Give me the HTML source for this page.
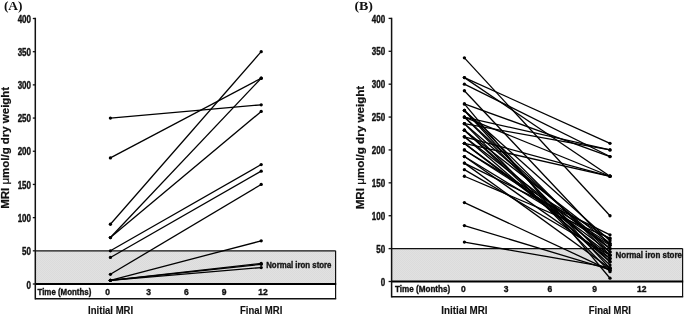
<!DOCTYPE html>
<html><head><meta charset="utf-8"><style>
html,body{margin:0;padding:0;background:#fff;}
svg{display:block;filter:blur(0.3px);}
text{font-family:"Liberation Sans", sans-serif;font-weight:bold;fill:#111;}
</style></head><body>
<svg width="685" height="316" viewBox="0 0 685 316">
<defs>
<pattern id="dots" width="2" height="2" patternUnits="userSpaceOnUse">
<rect width="2" height="2" fill="#e1e1e1"/>
<rect width="1" height="1" fill="#dbdbdb"/>
<rect x="1" y="1" width="1" height="1" fill="#dbdbdb"/>
</pattern>
</defs>
<text x="3.9" y="10.4" textLength="18.6" lengthAdjust="spacingAndGlyphs" style="font-family:'Liberation Serif',serif;font-size:12.4px;">(A)</text>
<text x="354.4" y="10.4" textLength="18.6" lengthAdjust="spacingAndGlyphs" style="font-family:'Liberation Serif',serif;font-size:12.4px;">(B)</text>
<rect x="35.3" y="250.8125" width="300.3" height="33.1875" fill="url(#dots)"/>
<line x1="35.3" y1="250.8125" x2="335.6" y2="250.8125" stroke="#111" stroke-width="1.3"/>
<line x1="335.6" y1="250.8125" x2="335.6" y2="298.7" stroke="#111" stroke-width="1.2"/>
<line x1="35.3" y1="298.7" x2="336.20000000000005" y2="298.7" stroke="#111" stroke-width="1.6"/>
<line x1="35.3" y1="284.0" x2="336.20000000000005" y2="284.0" stroke="#000" stroke-width="2.2"/>
<line x1="35.3" y1="17.8" x2="35.3" y2="299.5" stroke="#111" stroke-width="1.5"/>
<line x1="32.8" y1="284.0" x2="35.3" y2="284.0" stroke="#111" stroke-width="1.3"/>
<text x="30.999999999999996" y="288.7" text-anchor="end" font-size="10.0" stroke="#111" stroke-width="0.4" textLength="4.45" lengthAdjust="spacingAndGlyphs">0</text>
<line x1="32.8" y1="250.8125" x2="35.3" y2="250.8125" stroke="#111" stroke-width="1.3"/>
<text x="30.999999999999996" y="254.9125" text-anchor="end" font-size="10.0" stroke="#111" stroke-width="0.4" textLength="8.9" lengthAdjust="spacingAndGlyphs">50</text>
<line x1="32.8" y1="217.625" x2="35.3" y2="217.625" stroke="#111" stroke-width="1.3"/>
<text x="30.999999999999996" y="221.725" text-anchor="end" font-size="10.0" stroke="#111" stroke-width="0.4" textLength="13.350000000000001" lengthAdjust="spacingAndGlyphs">100</text>
<line x1="32.8" y1="184.4375" x2="35.3" y2="184.4375" stroke="#111" stroke-width="1.3"/>
<text x="30.999999999999996" y="188.5375" text-anchor="end" font-size="10.0" stroke="#111" stroke-width="0.4" textLength="13.350000000000001" lengthAdjust="spacingAndGlyphs">150</text>
<line x1="32.8" y1="151.25" x2="35.3" y2="151.25" stroke="#111" stroke-width="1.3"/>
<text x="30.999999999999996" y="155.35" text-anchor="end" font-size="10.0" stroke="#111" stroke-width="0.4" textLength="13.350000000000001" lengthAdjust="spacingAndGlyphs">200</text>
<line x1="32.8" y1="118.0625" x2="35.3" y2="118.0625" stroke="#111" stroke-width="1.3"/>
<text x="30.999999999999996" y="122.1625" text-anchor="end" font-size="10.0" stroke="#111" stroke-width="0.4" textLength="13.350000000000001" lengthAdjust="spacingAndGlyphs">250</text>
<line x1="32.8" y1="84.87500000000003" x2="35.3" y2="84.87500000000003" stroke="#111" stroke-width="1.3"/>
<text x="30.999999999999996" y="88.97500000000002" text-anchor="end" font-size="10.0" stroke="#111" stroke-width="0.4" textLength="13.350000000000001" lengthAdjust="spacingAndGlyphs">300</text>
<line x1="32.8" y1="51.68750000000003" x2="35.3" y2="51.68750000000003" stroke="#111" stroke-width="1.3"/>
<text x="30.999999999999996" y="55.78750000000003" text-anchor="end" font-size="10.0" stroke="#111" stroke-width="0.4" textLength="13.350000000000001" lengthAdjust="spacingAndGlyphs">350</text>
<line x1="32.8" y1="18.5" x2="35.3" y2="18.5" stroke="#111" stroke-width="1.3"/>
<text x="30.999999999999996" y="22.6" text-anchor="end" font-size="10.0" stroke="#111" stroke-width="0.4" textLength="13.350000000000001" lengthAdjust="spacingAndGlyphs">400</text>
<text x="37.5" y="294.8" font-size="8.5" textLength="53.8" lengthAdjust="spacingAndGlyphs" stroke="#111" stroke-width="0.35">Time (Months)</text>
<text x="107.6" y="294.8" font-size="8.5" text-anchor="middle" stroke="#111" stroke-width="0.35">0</text>
<text x="148.7" y="294.8" font-size="8.5" text-anchor="middle" stroke="#111" stroke-width="0.35">3</text>
<text x="186.4" y="294.8" font-size="8.5" text-anchor="middle" stroke="#111" stroke-width="0.35">6</text>
<text x="224" y="294.8" font-size="8.5" text-anchor="middle" stroke="#111" stroke-width="0.35">9</text>
<text x="263" y="294.8" font-size="8.5" text-anchor="middle" stroke="#111" stroke-width="0.35">12</text>
<line x1="110.4" y1="118.06" x2="261.2" y2="104.79" stroke="#000" stroke-width="1.3"/>
<line x1="110.4" y1="157.89" x2="261.2" y2="78.24" stroke="#000" stroke-width="1.3"/>
<line x1="110.4" y1="224.26" x2="261.2" y2="51.69" stroke="#000" stroke-width="1.3"/>
<line x1="110.4" y1="237.54" x2="261.2" y2="78.24" stroke="#000" stroke-width="1.3"/>
<line x1="110.4" y1="237.54" x2="261.2" y2="111.43" stroke="#000" stroke-width="1.3"/>
<line x1="110.4" y1="250.81" x2="261.2" y2="164.53" stroke="#000" stroke-width="1.3"/>
<line x1="110.4" y1="257.45" x2="261.2" y2="171.16" stroke="#000" stroke-width="1.3"/>
<line x1="110.4" y1="274.31" x2="261.2" y2="184.44" stroke="#000" stroke-width="1.3"/>
<line x1="110.4" y1="280.28" x2="261.2" y2="240.86" stroke="#000" stroke-width="1.3"/>
<line x1="110.4" y1="280.28" x2="261.2" y2="263.49" stroke="#000" stroke-width="1.3"/>
<line x1="110.4" y1="280.28" x2="261.2" y2="264.35" stroke="#000" stroke-width="1.3"/>
<line x1="110.4" y1="280.28" x2="261.2" y2="267.54" stroke="#000" stroke-width="1.3"/>
<circle cx="110.4" cy="118.06" r="1.65"/>
<circle cx="261.2" cy="104.79" r="1.65"/>
<circle cx="110.4" cy="157.89" r="1.65"/>
<circle cx="261.2" cy="78.24" r="1.65"/>
<circle cx="110.4" cy="224.26" r="1.65"/>
<circle cx="261.2" cy="51.69" r="1.65"/>
<circle cx="110.4" cy="237.54" r="1.65"/>
<circle cx="261.2" cy="78.24" r="1.65"/>
<circle cx="110.4" cy="237.54" r="1.65"/>
<circle cx="261.2" cy="111.43" r="1.65"/>
<circle cx="110.4" cy="250.81" r="1.65"/>
<circle cx="261.2" cy="164.53" r="1.65"/>
<circle cx="110.4" cy="257.45" r="1.65"/>
<circle cx="261.2" cy="171.16" r="1.65"/>
<circle cx="110.4" cy="274.31" r="1.65"/>
<circle cx="261.2" cy="184.44" r="1.65"/>
<circle cx="110.4" cy="280.28" r="1.65"/>
<circle cx="261.2" cy="240.86" r="1.65"/>
<circle cx="110.4" cy="280.28" r="1.65"/>
<circle cx="261.2" cy="263.49" r="1.65"/>
<circle cx="110.4" cy="280.28" r="1.65"/>
<circle cx="261.2" cy="264.35" r="1.65"/>
<circle cx="110.4" cy="280.28" r="1.65"/>
<circle cx="261.2" cy="267.54" r="1.65"/>
<text x="266.2" y="267.6" font-size="8.6" textLength="65.3" lengthAdjust="spacingAndGlyphs" stroke="#111" stroke-width="0.35">Normal iron store</text>
<text x="9.5" y="208.8" font-size="10.1" stroke="#111" stroke-width="0.2" textLength="122.0" lengthAdjust="spacingAndGlyphs" transform="rotate(-90 9.5 208.8)">MRI <tspan font-weight="normal">μ</tspan>mol/g dry weight</text>
<rect x="391.6" y="248.6125" width="291.0" height="32.88749999999999" fill="url(#dots)"/>
<line x1="391.6" y1="248.6125" x2="682.6" y2="248.6125" stroke="#111" stroke-width="1.3"/>
<line x1="682.6" y1="248.6125" x2="682.6" y2="296.8" stroke="#111" stroke-width="1.2"/>
<line x1="391.6" y1="296.8" x2="683.2" y2="296.8" stroke="#111" stroke-width="1.6"/>
<line x1="391.6" y1="281.5" x2="683.2" y2="281.5" stroke="#000" stroke-width="2.2"/>
<line x1="391.6" y1="17.700000000000035" x2="391.6" y2="297.6" stroke="#111" stroke-width="1.5"/>
<line x1="388.6" y1="281.5" x2="391.6" y2="281.5" stroke="#111" stroke-width="1.3"/>
<text x="385.20000000000005" y="286.2" text-anchor="end" font-size="10.0" stroke="#111" stroke-width="0.4" textLength="4.45" lengthAdjust="spacingAndGlyphs">0</text>
<line x1="388.6" y1="248.6125" x2="391.6" y2="248.6125" stroke="#111" stroke-width="1.3"/>
<text x="385.20000000000005" y="252.7125" text-anchor="end" font-size="10.0" stroke="#111" stroke-width="0.4" textLength="8.9" lengthAdjust="spacingAndGlyphs">50</text>
<line x1="388.6" y1="215.72500000000002" x2="391.6" y2="215.72500000000002" stroke="#111" stroke-width="1.3"/>
<text x="385.20000000000005" y="219.82500000000002" text-anchor="end" font-size="10.0" stroke="#111" stroke-width="0.4" textLength="13.350000000000001" lengthAdjust="spacingAndGlyphs">100</text>
<line x1="388.6" y1="182.8375" x2="391.6" y2="182.8375" stroke="#111" stroke-width="1.3"/>
<text x="385.20000000000005" y="186.9375" text-anchor="end" font-size="10.0" stroke="#111" stroke-width="0.4" textLength="13.350000000000001" lengthAdjust="spacingAndGlyphs">150</text>
<line x1="388.6" y1="149.95000000000002" x2="391.6" y2="149.95000000000002" stroke="#111" stroke-width="1.3"/>
<text x="385.20000000000005" y="154.05" text-anchor="end" font-size="10.0" stroke="#111" stroke-width="0.4" textLength="13.350000000000001" lengthAdjust="spacingAndGlyphs">200</text>
<line x1="388.6" y1="117.0625" x2="391.6" y2="117.0625" stroke="#111" stroke-width="1.3"/>
<text x="385.20000000000005" y="121.1625" text-anchor="end" font-size="10.0" stroke="#111" stroke-width="0.4" textLength="13.350000000000001" lengthAdjust="spacingAndGlyphs">250</text>
<line x1="388.6" y1="84.17500000000001" x2="391.6" y2="84.17500000000001" stroke="#111" stroke-width="1.3"/>
<text x="385.20000000000005" y="88.275" text-anchor="end" font-size="10.0" stroke="#111" stroke-width="0.4" textLength="13.350000000000001" lengthAdjust="spacingAndGlyphs">300</text>
<line x1="388.6" y1="51.28750000000002" x2="391.6" y2="51.28750000000002" stroke="#111" stroke-width="1.3"/>
<text x="385.20000000000005" y="55.387500000000024" text-anchor="end" font-size="10.0" stroke="#111" stroke-width="0.4" textLength="13.350000000000001" lengthAdjust="spacingAndGlyphs">350</text>
<line x1="388.6" y1="18.400000000000034" x2="391.6" y2="18.400000000000034" stroke="#111" stroke-width="1.3"/>
<text x="385.20000000000005" y="22.500000000000036" text-anchor="end" font-size="10.0" stroke="#111" stroke-width="0.4" textLength="13.350000000000001" lengthAdjust="spacingAndGlyphs">400</text>
<text x="395.0" y="292.3" font-size="8.5" textLength="55.2" lengthAdjust="spacingAndGlyphs" stroke="#111" stroke-width="0.35">Time (Months)</text>
<text x="463.3" y="292.3" font-size="8.5" text-anchor="middle" stroke="#111" stroke-width="0.35">0</text>
<text x="506.2" y="292.3" font-size="8.5" text-anchor="middle" stroke="#111" stroke-width="0.35">3</text>
<text x="549.8" y="292.3" font-size="8.5" text-anchor="middle" stroke="#111" stroke-width="0.35">6</text>
<text x="594.5" y="292.3" font-size="8.5" text-anchor="middle" stroke="#111" stroke-width="0.35">9</text>
<text x="641.7" y="292.3" font-size="8.5" text-anchor="middle" stroke="#111" stroke-width="0.35">12</text>
<line x1="464.4" y1="57.87" x2="610.0" y2="215.73" stroke="#000" stroke-width="1.3"/>
<line x1="464.4" y1="77.60" x2="610.0" y2="143.37" stroke="#000" stroke-width="1.3"/>
<line x1="464.4" y1="77.60" x2="610.0" y2="176.26" stroke="#000" stroke-width="1.3"/>
<line x1="464.4" y1="84.18" x2="610.0" y2="156.53" stroke="#000" stroke-width="1.3"/>
<line x1="464.4" y1="90.75" x2="610.0" y2="245.32" stroke="#000" stroke-width="1.3"/>
<line x1="464.4" y1="103.91" x2="610.0" y2="156.53" stroke="#000" stroke-width="1.3"/>
<line x1="464.4" y1="103.91" x2="610.0" y2="278.21" stroke="#000" stroke-width="1.3"/>
<line x1="464.4" y1="110.49" x2="610.0" y2="255.19" stroke="#000" stroke-width="1.3"/>
<line x1="464.4" y1="110.49" x2="610.0" y2="268.35" stroke="#000" stroke-width="1.3"/>
<line x1="464.4" y1="110.49" x2="610.0" y2="240.72" stroke="#000" stroke-width="1.3"/>
<line x1="464.4" y1="117.06" x2="610.0" y2="149.95" stroke="#000" stroke-width="1.3"/>
<line x1="464.4" y1="117.06" x2="610.0" y2="176.26" stroke="#000" stroke-width="1.3"/>
<line x1="464.4" y1="117.06" x2="610.0" y2="261.77" stroke="#000" stroke-width="1.3"/>
<line x1="464.4" y1="117.06" x2="610.0" y2="251.90" stroke="#000" stroke-width="1.3"/>
<line x1="464.4" y1="123.64" x2="610.0" y2="149.95" stroke="#000" stroke-width="1.3"/>
<line x1="464.4" y1="123.64" x2="610.0" y2="248.61" stroke="#000" stroke-width="1.3"/>
<line x1="464.4" y1="123.64" x2="610.0" y2="271.63" stroke="#000" stroke-width="1.3"/>
<line x1="464.4" y1="130.22" x2="610.0" y2="258.48" stroke="#000" stroke-width="1.3"/>
<line x1="464.4" y1="130.22" x2="610.0" y2="265.06" stroke="#000" stroke-width="1.3"/>
<line x1="464.4" y1="130.22" x2="610.0" y2="243.35" stroke="#000" stroke-width="1.3"/>
<line x1="464.4" y1="136.80" x2="610.0" y2="176.26" stroke="#000" stroke-width="1.3"/>
<line x1="464.4" y1="136.80" x2="610.0" y2="261.77" stroke="#000" stroke-width="1.3"/>
<line x1="464.4" y1="136.80" x2="610.0" y2="248.61" stroke="#000" stroke-width="1.3"/>
<line x1="464.4" y1="143.37" x2="610.0" y2="176.26" stroke="#000" stroke-width="1.3"/>
<line x1="464.4" y1="143.37" x2="610.0" y2="255.19" stroke="#000" stroke-width="1.3"/>
<line x1="464.4" y1="143.37" x2="610.0" y2="251.90" stroke="#000" stroke-width="1.3"/>
<line x1="464.4" y1="149.95" x2="610.0" y2="244.01" stroke="#000" stroke-width="1.3"/>
<line x1="464.4" y1="149.95" x2="610.0" y2="238.75" stroke="#000" stroke-width="1.3"/>
<line x1="464.4" y1="156.53" x2="610.0" y2="245.32" stroke="#000" stroke-width="1.3"/>
<line x1="464.4" y1="156.53" x2="610.0" y2="258.48" stroke="#000" stroke-width="1.3"/>
<line x1="464.4" y1="163.11" x2="610.0" y2="268.35" stroke="#000" stroke-width="1.3"/>
<line x1="464.4" y1="163.11" x2="610.0" y2="234.80" stroke="#000" stroke-width="1.3"/>
<line x1="464.4" y1="169.68" x2="610.0" y2="255.19" stroke="#000" stroke-width="1.3"/>
<line x1="464.4" y1="176.26" x2="610.0" y2="238.09" stroke="#000" stroke-width="1.3"/>
<line x1="464.4" y1="202.57" x2="610.0" y2="270.32" stroke="#000" stroke-width="1.3"/>
<line x1="464.4" y1="225.59" x2="610.0" y2="269.66" stroke="#000" stroke-width="1.3"/>
<line x1="464.4" y1="242.03" x2="610.0" y2="267.69" stroke="#000" stroke-width="1.3"/>
<circle cx="464.4" cy="57.87" r="1.65"/>
<circle cx="610.0" cy="215.73" r="1.65"/>
<circle cx="464.4" cy="77.60" r="1.65"/>
<circle cx="610.0" cy="143.37" r="1.65"/>
<circle cx="464.4" cy="77.60" r="1.65"/>
<circle cx="610.0" cy="176.26" r="1.65"/>
<circle cx="464.4" cy="84.18" r="1.65"/>
<circle cx="610.0" cy="156.53" r="1.65"/>
<circle cx="464.4" cy="90.75" r="1.65"/>
<circle cx="610.0" cy="245.32" r="1.65"/>
<circle cx="464.4" cy="103.91" r="1.65"/>
<circle cx="610.0" cy="156.53" r="1.65"/>
<circle cx="464.4" cy="103.91" r="1.65"/>
<circle cx="610.0" cy="278.21" r="1.65"/>
<circle cx="464.4" cy="110.49" r="1.65"/>
<circle cx="610.0" cy="255.19" r="1.65"/>
<circle cx="464.4" cy="110.49" r="1.65"/>
<circle cx="610.0" cy="268.35" r="1.65"/>
<circle cx="464.4" cy="110.49" r="1.65"/>
<circle cx="610.0" cy="240.72" r="1.65"/>
<circle cx="464.4" cy="117.06" r="1.65"/>
<circle cx="610.0" cy="149.95" r="1.65"/>
<circle cx="464.4" cy="117.06" r="1.65"/>
<circle cx="610.0" cy="176.26" r="1.65"/>
<circle cx="464.4" cy="117.06" r="1.65"/>
<circle cx="610.0" cy="261.77" r="1.65"/>
<circle cx="464.4" cy="117.06" r="1.65"/>
<circle cx="610.0" cy="251.90" r="1.65"/>
<circle cx="464.4" cy="123.64" r="1.65"/>
<circle cx="610.0" cy="149.95" r="1.65"/>
<circle cx="464.4" cy="123.64" r="1.65"/>
<circle cx="610.0" cy="248.61" r="1.65"/>
<circle cx="464.4" cy="123.64" r="1.65"/>
<circle cx="610.0" cy="271.63" r="1.65"/>
<circle cx="464.4" cy="130.22" r="1.65"/>
<circle cx="610.0" cy="258.48" r="1.65"/>
<circle cx="464.4" cy="130.22" r="1.65"/>
<circle cx="610.0" cy="265.06" r="1.65"/>
<circle cx="464.4" cy="130.22" r="1.65"/>
<circle cx="610.0" cy="243.35" r="1.65"/>
<circle cx="464.4" cy="136.80" r="1.65"/>
<circle cx="610.0" cy="176.26" r="1.65"/>
<circle cx="464.4" cy="136.80" r="1.65"/>
<circle cx="610.0" cy="261.77" r="1.65"/>
<circle cx="464.4" cy="136.80" r="1.65"/>
<circle cx="610.0" cy="248.61" r="1.65"/>
<circle cx="464.4" cy="143.37" r="1.65"/>
<circle cx="610.0" cy="176.26" r="1.65"/>
<circle cx="464.4" cy="143.37" r="1.65"/>
<circle cx="610.0" cy="255.19" r="1.65"/>
<circle cx="464.4" cy="143.37" r="1.65"/>
<circle cx="610.0" cy="251.90" r="1.65"/>
<circle cx="464.4" cy="149.95" r="1.65"/>
<circle cx="610.0" cy="244.01" r="1.65"/>
<circle cx="464.4" cy="149.95" r="1.65"/>
<circle cx="610.0" cy="238.75" r="1.65"/>
<circle cx="464.4" cy="156.53" r="1.65"/>
<circle cx="610.0" cy="245.32" r="1.65"/>
<circle cx="464.4" cy="156.53" r="1.65"/>
<circle cx="610.0" cy="258.48" r="1.65"/>
<circle cx="464.4" cy="163.11" r="1.65"/>
<circle cx="610.0" cy="268.35" r="1.65"/>
<circle cx="464.4" cy="163.11" r="1.65"/>
<circle cx="610.0" cy="234.80" r="1.65"/>
<circle cx="464.4" cy="169.68" r="1.65"/>
<circle cx="610.0" cy="255.19" r="1.65"/>
<circle cx="464.4" cy="176.26" r="1.65"/>
<circle cx="610.0" cy="238.09" r="1.65"/>
<circle cx="464.4" cy="202.57" r="1.65"/>
<circle cx="610.0" cy="270.32" r="1.65"/>
<circle cx="464.4" cy="225.59" r="1.65"/>
<circle cx="610.0" cy="269.66" r="1.65"/>
<circle cx="464.4" cy="242.03" r="1.65"/>
<circle cx="610.0" cy="267.69" r="1.65"/>
<text x="615.5" y="257.9" font-size="8.6" textLength="66.5" lengthAdjust="spacingAndGlyphs" stroke="#111" stroke-width="0.35">Normal iron store</text>
<text x="364.0" y="209.3" font-size="10.1" stroke="#111" stroke-width="0.2" textLength="123.5" lengthAdjust="spacingAndGlyphs" transform="rotate(-90 364.0 209.3)">MRI <tspan font-weight="normal">μ</tspan>mol/g dry weight</text>
<text x="88.1" y="313.8" font-size="10.2" stroke="#111" stroke-width="0.15" textLength="45" lengthAdjust="spacingAndGlyphs">Initial MRI</text>
<text x="240" y="313.8" font-size="10.2" stroke="#111" stroke-width="0.15" textLength="42.3" lengthAdjust="spacingAndGlyphs">Final MRI</text>
<text x="441.3" y="313.8" font-size="10.2" stroke="#111" stroke-width="0.15" textLength="46.3" lengthAdjust="spacingAndGlyphs">Initial MRI</text>
<text x="588.7" y="313.8" font-size="10.2" stroke="#111" stroke-width="0.15" textLength="42.3" lengthAdjust="spacingAndGlyphs">Final MRI</text>
</svg>
</body></html>
